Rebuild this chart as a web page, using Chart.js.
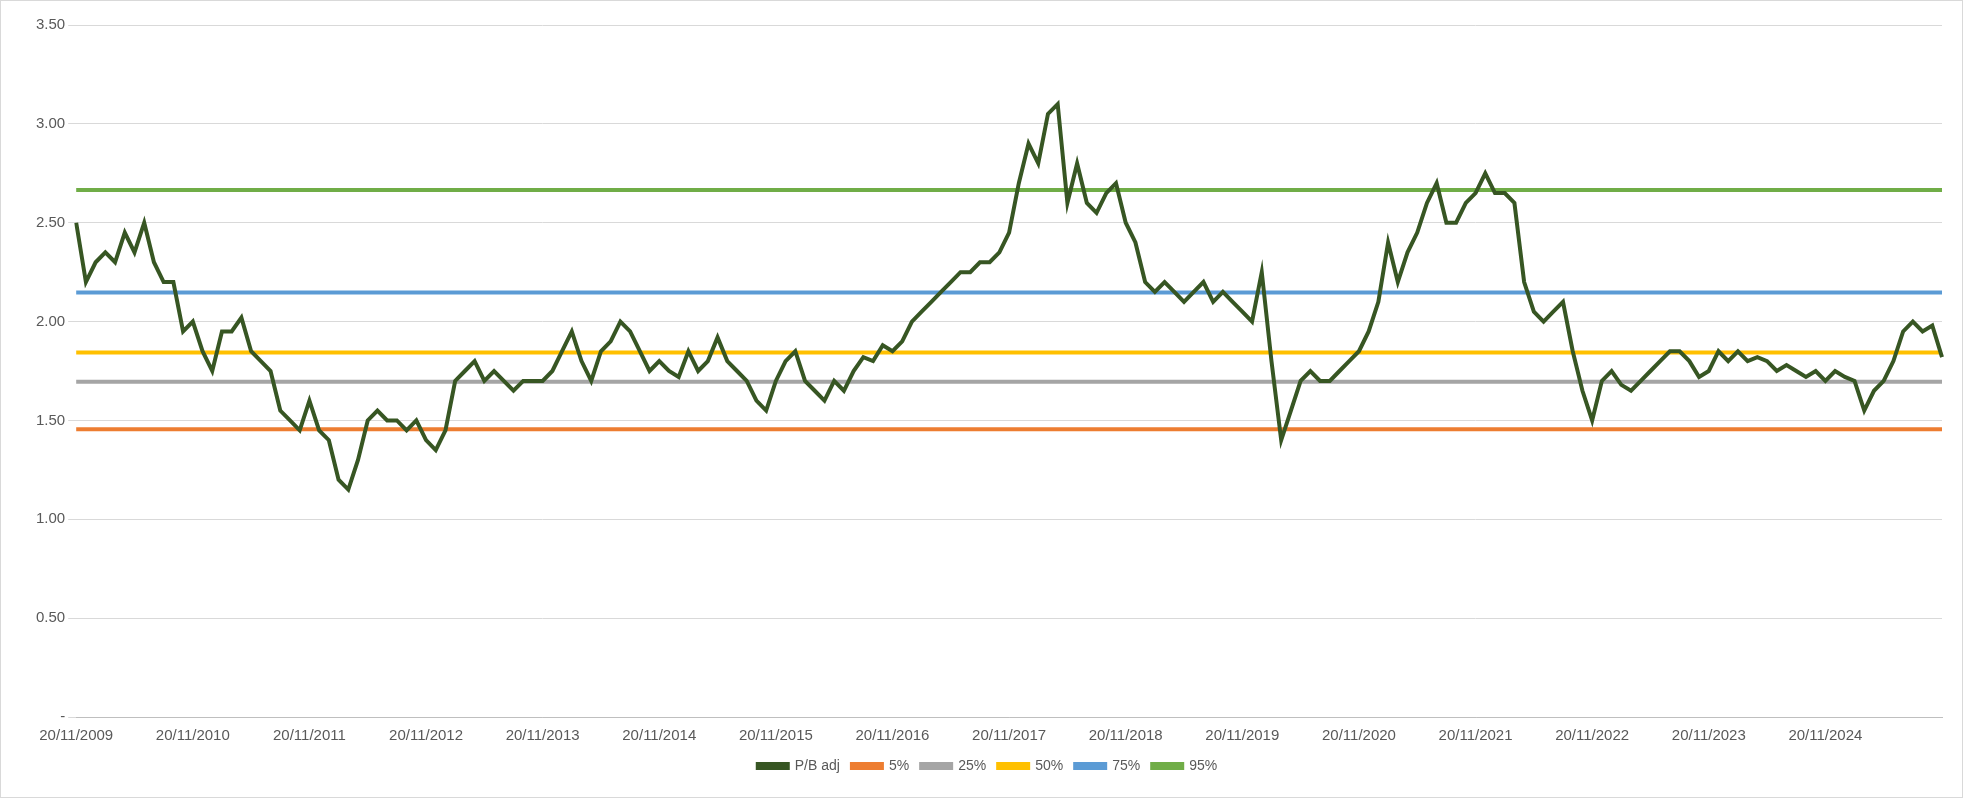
<!DOCTYPE html>
<html><head><meta charset="utf-8">
<script src="https://cdn.jsdelivr.net/npm/chart.js@4"></script>
<style>html,body{margin:0;padding:0;background:#fff}#w{position:absolute;left:0;top:0;width:1961px;height:796px;border:1px solid #d9d9d9}</style>
</head><body><div id="w"><canvas id="c"></canvas></div>
<script>
const pbValues=[2.5,2.2,2.3,2.35,2.3,2.45,2.35,2.5,2.3,2.2,2.2,1.95,2.0,
1.85,1.75,1.95,1.95,2.02,1.85,1.8,1.75,1.55,1.5,1.45,1.6,
1.45,1.4,1.2,1.15,1.3,1.5,1.55,1.5,1.5,1.45,1.5,1.4,
1.35,1.45,1.7,1.75,1.8,1.7,1.75,1.7,1.65,1.7,1.7,1.7,
1.75,1.85,1.95,1.8,1.7,1.85,1.9,2.0,1.95,1.85,1.75,1.8,
1.75,1.72,1.85,1.75,1.8,1.92,1.8,1.75,1.7,1.6,1.55,1.7,
1.8,1.85,1.7,1.65,1.6,1.7,1.65,1.75,1.82,1.8,1.88,1.85,
1.9,2.0,2.05,2.1,2.15,2.2,2.25,2.25,2.3,2.3,2.35,2.45,
2.7,2.9,2.8,3.05,3.1,2.6,2.8,2.6,2.55,2.65,2.7,2.5,
2.4,2.2,2.15,2.2,2.15,2.1,2.15,2.2,2.1,2.15,2.1,2.05,
2.0,2.25,1.8,1.4,1.55,1.7,1.75,1.7,1.7,1.75,1.8,1.85,
1.95,2.1,2.4,2.2,2.35,2.45,2.6,2.7,2.5,2.5,2.6,2.65,
2.75,2.65,2.65,2.6,2.2,2.05,2.0,2.05,2.1,1.85,1.65,1.5,
1.7,1.75,1.68,1.65,1.7,1.75,1.8,1.85,1.85,1.8,1.72,1.75,
1.85,1.8,1.85,1.8,1.82,1.8,1.75,1.78,1.75,1.72,1.75,1.7,
1.75,1.72,1.7,1.55,1.65,1.7,1.8,1.95,2.0,1.95,1.98,1.82];
const startYear=2009;
const categories=pbValues.map((v,i)=>{const m=(10+i)%12;const y=startYear+Math.floor((10+i)/12);return '20/'+String(m+1).padStart(2,'0')+'/'+y;});
const pct5=1.455,pct25=1.695,pct50=1.843,pct75=2.147,pct95=2.665;
const flat=v=>categories.map(()=>v);
const ds=(label,data,color,w)=>({label,data,borderColor:color,backgroundColor:color,borderWidth:w,pointRadius:0,tension:0});
new Chart(document.getElementById('c'),{type:'line',
data:{labels:categories,datasets:[
ds('P/B adj',pbValues,'#375623',4),
ds('5%',flat(pct5),'#ED7D31',4),
ds('25%',flat(pct25),'#A5A5A5',4),
ds('50%',flat(pct50),'#FFC000',4),
ds('75%',flat(pct75),'#5B9BD5',4),
ds('95%',flat(pct95),'#70AD47',4)]},
options:{responsive:true,maintainAspectRatio:false,animation:false,
layout:{padding:{left:32,right:20,top:24,bottom:14}},
plugins:{legend:{position:'bottom',labels:{boxWidth:30,boxHeight:4,padding:12,color:'#595959',font:{size:14,family:'Liberation Sans'}}},tooltip:{enabled:false}},
scales:{x:{grid:{display:false},border:{color:'#bfbfbf'},
ticks:{autoSkip:false,maxRotation:0,padding:2,color:'#595959',font:{size:15,family:'Liberation Sans'},callback:(v,i)=>i%12===0&&i<categories.length-1?categories[i]:null}},
y:{min:0,max:3.5,border:{display:false},grid:{color:'#d9d9d9'},
ticks:{stepSize:0.5,color:'#595959',font:{size:15,family:'Liberation Sans'},callback:v=>v===0?'-':v.toFixed(2)}}}}});
</script></body></html>
